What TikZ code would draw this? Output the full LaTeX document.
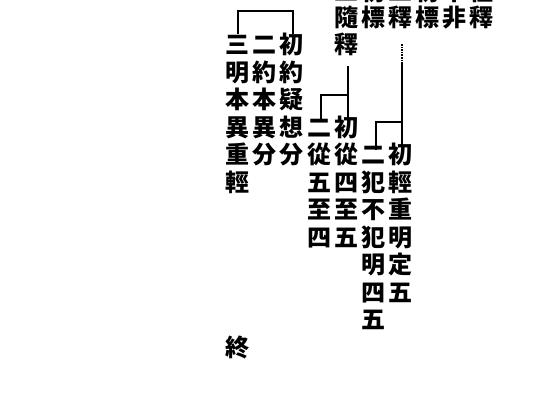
\documentclass[tikz,border=0pt]{standalone}
\usepackage{fontspec}
\newfontfamily\cjk{Noto Sans CJK JP}
\begin{document}
\begin{tikzpicture}[x=1pt,y=-1pt]
\tikzset{
  ch/.style={inner sep=0pt, font=\cjk\bfseries\fontsize{24}{24}\selectfont, text height=0.88em, text depth=0.12em},
  br/.style={line width=2.8pt, line cap=butt},
  faint/.style={line width=1.6pt, densely dotted}
}
\useasboundingbox (0,0) rectangle (556,404);
\fill[white] (0,0) rectangle (556,404);
% row n centre = 22.5 + 27.5*n
\def\col#1#2#3#4{%
  \foreach \c [count=\i from 0] in {#4}{%
    \pgfmathsetmacro\yy{22.5+27.5*(#3+\i)}%
    \node[ch] (#1-\i) at (#2,\yy) {\c};}}
% top row, cut by the upper edge
\foreach \c/\x [count=\i] in {二/346,初/373,二/400,初/427,不/454,往/481}
  \node[ch] (top-\i) at (\x,-3) {\c};
% column A
\col{A}{237}{1}{三,明,本,異,重,輕}
\node[ch] (end) at (237,352.5) {終};
% column B
\col{B}{264}{1}{二,約,本,異,分}
% column C
\col{C}{291}{1}{初,約,疑,想,分}
% column D
\col{D}{319}{4}{二,從,五,至,四}
% column E
\col{Etop}{346}{0}{隨,釋}
\col{E}{346}{4}{初,從,四,至,五}
% column F
\col{Ftop}{373}{0}{標}
\col{F}{373}{5}{二,犯,不,犯,明,四,五}
% column G
\col{Gtop}{400}{0}{釋}
\col{G}{400}{5}{初,輕,重,明,定,五}
% columns H, I, J
\col{H}{427}{0}{標}
\col{I}{454}{0}{非}
\col{J}{481}{0}{釋}
% brackets
\draw[br] (238,34) -- (238,11) -- (293,11) -- (293,34);
\draw[br] (348,66) -- (348,122);
\draw[br] (348,95) -- (321,95) -- (321,122);
\draw[faint] (402,44) -- (402,63);
\draw[br] (402,63) -- (402,146);
\draw[br] (402,122) -- (376,122) -- (376,150);
\end{tikzpicture}
\end{document}
